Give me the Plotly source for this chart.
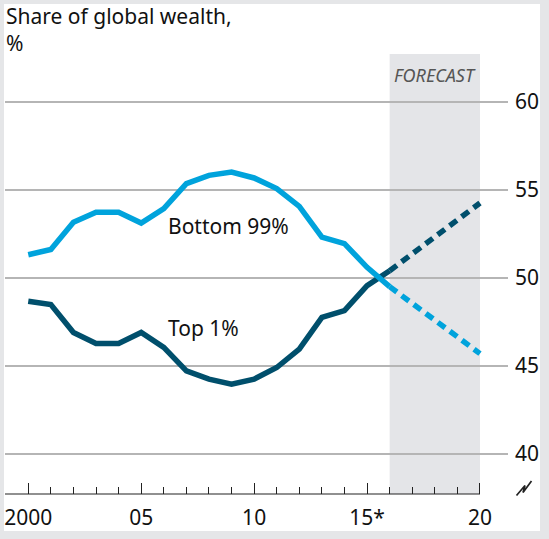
import plotly.graph_objects as go

years = list(range(2000, 2017))
bottom99 = [51.31, 51.61, 53.16, 53.73, 53.73, 53.11, 53.93, 55.35, 55.82, 56.01,
            55.67, 55.07, 54.06, 52.31, 51.94, 50.60, 49.50]
top1 = [48.67, 48.48, 46.90, 46.28, 46.28, 46.90, 46.05, 44.72, 44.25, 43.97,
        44.25, 44.91, 45.96, 47.76, 48.14, 49.56, 50.40]
fc_years = [2016, 2020]
fc_bottom99 = [49.50, 45.70]
fc_top1 = [50.40, 54.25]

x_tickvals = [2000, 2005, 2010, 2015, 2020]
x_ticktext = ["2000", "05", "10", "15*", "20"]
y_tickvals = [40, 45, 50, 55, 60]
forecast_span = [2016, 2020]

LIGHT = "#00a3dc"
DARK = "#004f6c"
FONT = "Noto Sans"
TXT = "#111111"

fig = go.Figure()
fig.add_trace(go.Scatter(x=years, y=top1, mode="lines",
                         line=dict(color=DARK, width=5.5), hoverinfo="skip"))
fig.add_trace(go.Scatter(x=fc_years, y=fc_top1, mode="lines",
                         line=dict(color=DARK, width=5.5, dash="9px,6px"), hoverinfo="skip"))
fig.add_trace(go.Scatter(x=years, y=bottom99, mode="lines",
                         line=dict(color=LIGHT, width=5.5), hoverinfo="skip"))
fig.add_trace(go.Scatter(x=fc_years, y=fc_bottom99, mode="lines",
                         line=dict(color=LIGHT, width=5.5, dash="9px,6px"), hoverinfo="skip"))

L, R, T, B = 5, 41, 54, 45
W, H = 549, 539
pw, ph = W - L - R, H - T - B

def px(x):
    return (x - L) / pw

def py(y):
    return (H - B - y) / ph

shapes = [
    # white panel
    dict(type="rect", xref="paper", yref="paper", x0=px(4), x1=px(540), y0=py(531), y1=py(4),
         fillcolor="white", line=dict(width=0), layer="below"),
    # forecast shading
    dict(type="rect", xref="x", yref="paper", x0=forecast_span[0], x1=forecast_span[1], y0=0, y1=1,
         fillcolor="#e4e5e8", line=dict(width=0), layer="below"),
    # x axis line
    dict(type="line", xref="x", yref="paper", x0=x_tickvals[0] - 1.03, x1=x_tickvals[-1], y0=0, y1=0,
         line=dict(color="#222222", width=1.2), layer="above"),
    # axis break symbol
    dict(type="path", xref="paper", yref="paper",
         path=f"M {px(516.5)},{py(495.5)} L {px(525)},{py(485.5)} L {px(523)},{py(492.5)} L {px(531.5)},{py(481)}",
         line=dict(color="#222222", width=1.7)),
]

annotations = [
    dict(text="Share of global wealth,", xref="paper", yref="paper", x=px(4), y=py(16),
         xanchor="left", yanchor="middle", showarrow=False, font=dict(family=FONT, size=21, color=TXT)),
    dict(text="%", xref="paper", yref="paper", x=px(4), y=py(43),
         xanchor="left", yanchor="middle", showarrow=False, font=dict(family=FONT, size=21, color=TXT)),
    dict(text="FORECAST", xref="x", yref="y", x=2018, y=61.52, xanchor="center", yanchor="middle",
         showarrow=False, font=dict(family=FONT, size=18, color="#555555", style="italic")),
    dict(text="Bottom 99%", xref="x", yref="y", x=2006.1, y=52.94, xanchor="left", yanchor="middle",
         showarrow=False, font=dict(family=FONT, size=21, color=TXT)),
    dict(text="Top 1%", xref="x", yref="y", x=2006.1, y=47.15, xanchor="left", yanchor="middle",
         showarrow=False, font=dict(family=FONT, size=21, color=TXT)),
]

fig.update_layout(
    width=W, height=H,
    margin=dict(l=L, r=R, t=T, b=B),
    paper_bgcolor="#e5e6e8",
    plot_bgcolor="rgba(0,0,0,0)",
    showlegend=False,
    shapes=shapes,
    annotations=annotations,
    xaxis=dict(range=[1998.97, 2021.24], showgrid=False, zeroline=False, showline=False,
               tickmode="array", tickvals=x_tickvals, ticktext=x_ticktext,
               ticks="inside", ticklen=11, tickwidth=1.2, tickcolor="#222222",
               minor=dict(tickvals=[y for y in range(2001, 2020) if y % 5 != 0],
                          ticks="inside", ticklen=7, tickwidth=1.2, tickcolor="#222222", showgrid=False),
               tickfont=dict(family=FONT, size=21, color=TXT), ticklabelstandoff=9, fixedrange=True),
    yaxis=dict(range=[37.729, 62.708], side="right", showgrid=True, gridcolor="#b5b5b5", gridwidth=2,
               zeroline=False, showline=False, ticks="", tickmode="array", tickvals=y_tickvals,
               tickfont=dict(family=FONT, size=21, color=TXT), ticklabelstandoff=6, fixedrange=True),
)

fig.write_html("out.html", config={"displayModeBar": False},
               post_script="document.body.style.margin='0';document.body.style.overflow='hidden';")
